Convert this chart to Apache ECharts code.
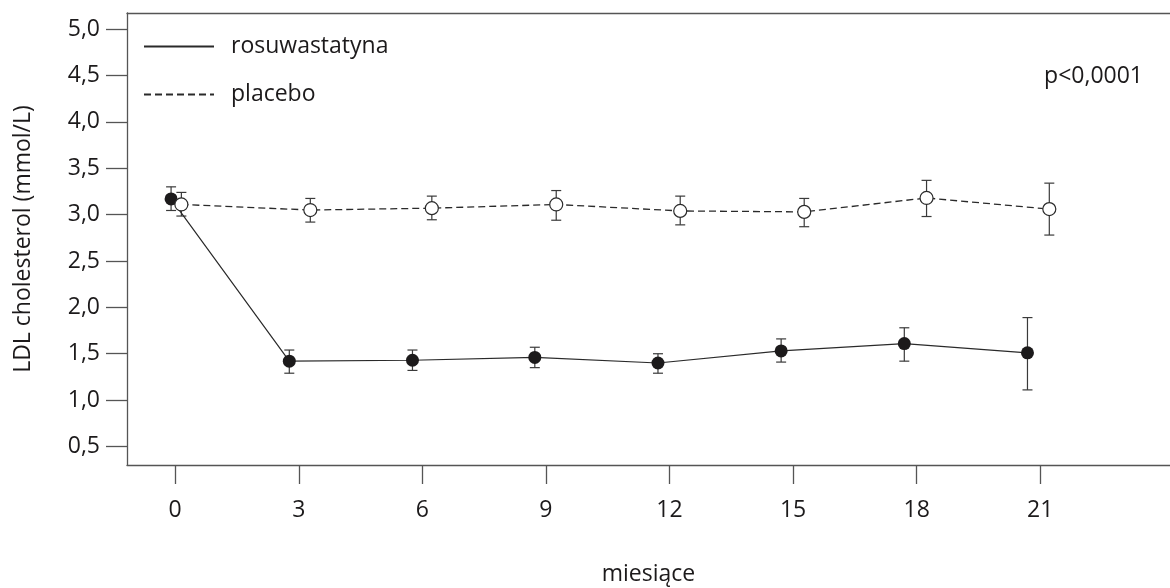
<!DOCTYPE html>
<html>
<head>
<meta charset="utf-8">
<script src="https://cdn.jsdelivr.net/npm/echarts@6/dist/echarts.min.js"></script>
<style>
  html, body { margin: 0; padding: 0; background: #fff; }
  #chart { width: 1170px; height: 588px; }
</style>
</head>
<body>
<div id="chart"></div>
<script>
// months on the axis
const months = [0, 3, 6, 9, 12, 15, 18, 21];
const yTicks = [0.5, 1.0, 1.5, 2.0, 2.5, 3.0, 3.5, 4.0, 4.5, 5.0];

// rosuwastatyna (filled), points drawn a bit left of each tick
const rosuX = [-0.1, 2.77, 5.76, 8.73, 11.72, 14.71, 17.7, 20.69];
const rosuMean = [3.17, 1.42, 1.43, 1.46, 1.4, 1.53, 1.61, 1.51];
const rosuLow = [3.045, 1.29, 1.32, 1.35, 1.29, 1.41, 1.42, 1.11];
const rosuHigh = [3.3, 1.54, 1.54, 1.57, 1.5, 1.66, 1.78, 1.89];

// placebo (open), a bit right of each tick
const placX = [0.15, 3.28, 6.23, 9.25, 12.26, 15.27, 18.24, 21.22];
const placMean = [3.11, 3.05, 3.07, 3.11, 3.04, 3.03, 3.18, 3.06];
const placLow = [2.985, 2.92, 2.945, 2.94, 2.89, 2.87, 2.98, 2.78];
const placHigh = [3.24, 3.175, 3.2, 3.26, 3.2, 3.175, 3.37, 3.34];

const FONT = 'Open Sans';
const FS = 23;
const INK = '#1c1a1b';
const AXIS = '#555';

function errorBars(xs, lows, highs) {
    return {
        type: 'custom',
        z: 1,
        silent: true,
        data: xs.map((x, i) => [x, lows[i], highs[i]]),
        renderItem(params, api) {
            const lo = api.coord([api.value(0), api.value(1)]);
            const hi = api.coord([api.value(0), api.value(2)]);
            const half = 5;
            const style = { stroke: '#3a3a3a', lineWidth: 1.2 };
            return {
                type: 'group',
                children: [
                    { type: 'line', shape: { x1: lo[0], y1: lo[1], x2: hi[0], y2: hi[1] }, style },
                    { type: 'line', shape: { x1: hi[0] - half, y1: hi[1], x2: hi[0] + half, y2: hi[1] }, style },
                    { type: 'line', shape: { x1: lo[0] - half, y1: lo[1], x2: lo[0] + half, y2: lo[1] }, style },
                ],
            };
        },
    };
}

const chart = echarts.init(document.getElementById('chart'));

chart.setOption({
    animation: false,
    textStyle: { fontFamily: FONT },
    grid: { left: 127, right: 0, top: 13, bottom: 123, containLabel: false, outerBoundsMode: 'none' },
    title: {
        text: 'p<0,0001',
        right: 27,
        top: 65,
        padding: 0,
        textStyle: { fontFamily: FONT, fontSize: FS, fontWeight: 'normal', color: INK },
    },
    legend: {
        orient: 'vertical',
        left: 143,
        top: 35,
        padding: 0,
        itemWidth: 70,
        itemHeight: 2,
        itemGap: 25,
        data: ['rosuwastatyna', 'placebo'],
        itemStyle: { opacity: 0 },
        textStyle: { fontFamily: FONT, fontSize: FS, color: INK, lineHeight: 23, padding: [0, 0, 0, 12] },
    },
    xAxis: [{
        type: 'value',
        min: -1.17,
        max: 24.15,
        name: 'miesiące',
        nameLocation: 'middle',
        nameGap: 98,
        nameTextStyle: { fontFamily: FONT, fontSize: FS, color: INK },
        axisLine: { onZero: false, lineStyle: { color: AXIS, width: 1.3 } },
        axisTick: { customValues: months, length: 19, lineStyle: { color: AXIS, width: 1.3 } },
        axisLabel: { customValues: months, margin: 34, fontFamily: FONT, fontSize: FS, color: INK },
        splitLine: { show: false },
    }, {
        type: 'value',
        position: 'top',
        min: -1.17,
        max: 24.15,
        axisLine: { show: true, onZero: false, lineStyle: { color: AXIS, width: 1.3 } },
        axisTick: { show: false },
        axisLabel: { show: false },
        splitLine: { show: false },
    }],
    yAxis: {
        type: 'value',
        min: 0.3,
        max: 5.175,
        name: 'LDL cholesterol (mmol/L)',
        nameLocation: 'middle',
        nameGap: 92,
        nameTextStyle: { fontFamily: FONT, fontSize: FS, color: INK },
        axisLine: { show: true, onZero: false, lineStyle: { color: AXIS, width: 1.3 } },
        axisTick: { show: true, customValues: yTicks, length: 21, lineStyle: { color: AXIS, width: 1.3 } },
        axisLabel: {
            customValues: yTicks,
            margin: 27,
            fontFamily: FONT,
            fontSize: FS,
            color: INK,
            formatter: (v) => v.toFixed(1).replace('.', ','),
        },
        splitLine: { show: false },
    },
    series: [
        errorBars(rosuX, rosuLow, rosuHigh),
        errorBars(placX, placLow, placHigh),
        {
            name: 'rosuwastatyna',
            type: 'line',
            z: 3,
            data: rosuX.map((x, i) => [x, rosuMean[i]]),
            symbol: 'circle',
            symbolSize: 13,
            itemStyle: { color: INK },
            lineStyle: { color: '#2a2a2a', width: 1.2 },
        },
        {
            name: 'placebo',
            type: 'line',
            z: 4,
            data: placX.map((x, i) => [x, placMean[i]]),
            symbol: 'circle',
            symbolSize: 13,
            itemStyle: { color: '#fff', borderColor: '#2a2a2a', borderWidth: 1.2 },
            lineStyle: { color: '#2a2a2a', width: 1.3, type: [7, 4] },
        },
    ],
});
</script>
</body>
</html>
